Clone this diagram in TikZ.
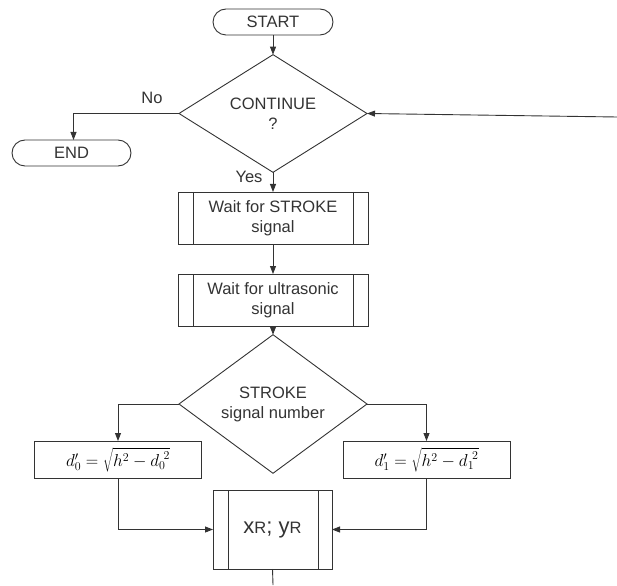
\documentclass[tikz,border=0pt]{standalone}
\usepackage{fontspec}
\setmainfont{Liberation Sans}
\usetikzlibrary{shapes.geometric,arrows.meta}
\tikzset{
  ln/.style={draw=black!80, line width=0.9pt},
  arr/.style={ln, -{Triangle[length=8pt,width=6pt]}},
  term/.style={ln, rounded corners=13pt, minimum width=120pt, minimum height=26pt, inner sep=0pt, outer sep=0pt, text=black!80},
  proc/.style={ln, minimum width=190pt, minimum height=52pt, inner sep=0pt, outer sep=0pt, align=center, text=black!80},
  calc/.style={ln, minimum width=167pt, minimum height=37pt, inner sep=0pt, outer sep=0pt, font=\fontsize{17}{20}\selectfont},
  dec/.style={ln, diamond, minimum width=188pt, minimum height=103pt, inner sep=0pt, outer sep=0pt, align=center, text=black!80},
  lbl/.style={text=black!80, inner sep=0pt}
}
\begin{document}
\begin{tikzpicture}[x=1pt,y=-1pt,font=\fontsize{16.5}{20}\selectfont]
\useasboundingbox (0,0) rectangle (617,585);
\node[term] (start) at (273,22) {START};
\node[dec] (cont) at (273,113.5) {CONTINUE\\?};
\node[term, minimum width=119pt] (end) at (71.5,153) {END};
\node[proc] (w1) at (273,218) {Wait for STROKE\\signal};
\node[proc] (w2) at (273,300) {Wait for ultrasonic\\signal};
\node[dec, minimum height=104pt] (sig) at (273,404) {STROKE\\signal number};
\node[calc] (f0) at (118,459.5) {$d'_{0} = \sqrt{h^{2} - {d_{0}}^{\!2}}$};
\node[calc] (f1) at (426.5,459.5) {$d'_{1} = \sqrt{h^{2} - {d_{1}}^{\!2}}$};
\node[ln, minimum width=119pt, minimum height=79pt, inner sep=0pt, outer sep=0pt, text=black!80, font=\fontsize{22}{24}\selectfont] (xy) at (272.5,529.5) {x{\fontsize{16.5}{20}\selectfont R}; y{\fontsize{16.5}{20}\selectfont R}};
% inner lines of predefined processes
\foreach \n in {w1,w2}{
  \draw[ln] ([xshift=15pt]\n.north west) -- ([xshift=15pt]\n.south west);
  \draw[ln] ([xshift=-15pt]\n.north east) -- ([xshift=-15pt]\n.south east);
}
\draw[ln] ([xshift=15pt]xy.north west) -- ([xshift=15pt]xy.south west);
\draw[ln] ([xshift=-14pt]xy.north east) -- ([xshift=-14pt]xy.south east);
% labels
\node[lbl] (no) at (152,98) {No};
\node[lbl] (yes) at (249,177) {Yes};
% coordinates
\coordinate (loopin) at (617,117);
\coordinate (bot) at (273,585);
% connectors
\draw[arr] (start) -- (cont);
\draw[arr] (cont.west) -| ([xshift=2pt]end.north);
\draw[arr] (cont.south) -- (w1.north);
\draw[arr] (w1) -- (w2);
\draw[arr] (w2) -- (sig);
\draw[arr] (sig.west) -| (f0.north);
\draw[arr] (sig.east) -| (f1.north);
\draw[arr] (f0.south) |- (xy.west);
\draw[arr] (f1.south) |- (xy.east);
\draw[arr] (loopin) -- (cont.east);
\draw[ln] (xy.south) -- (bot);
\end{tikzpicture}
\end{document}
